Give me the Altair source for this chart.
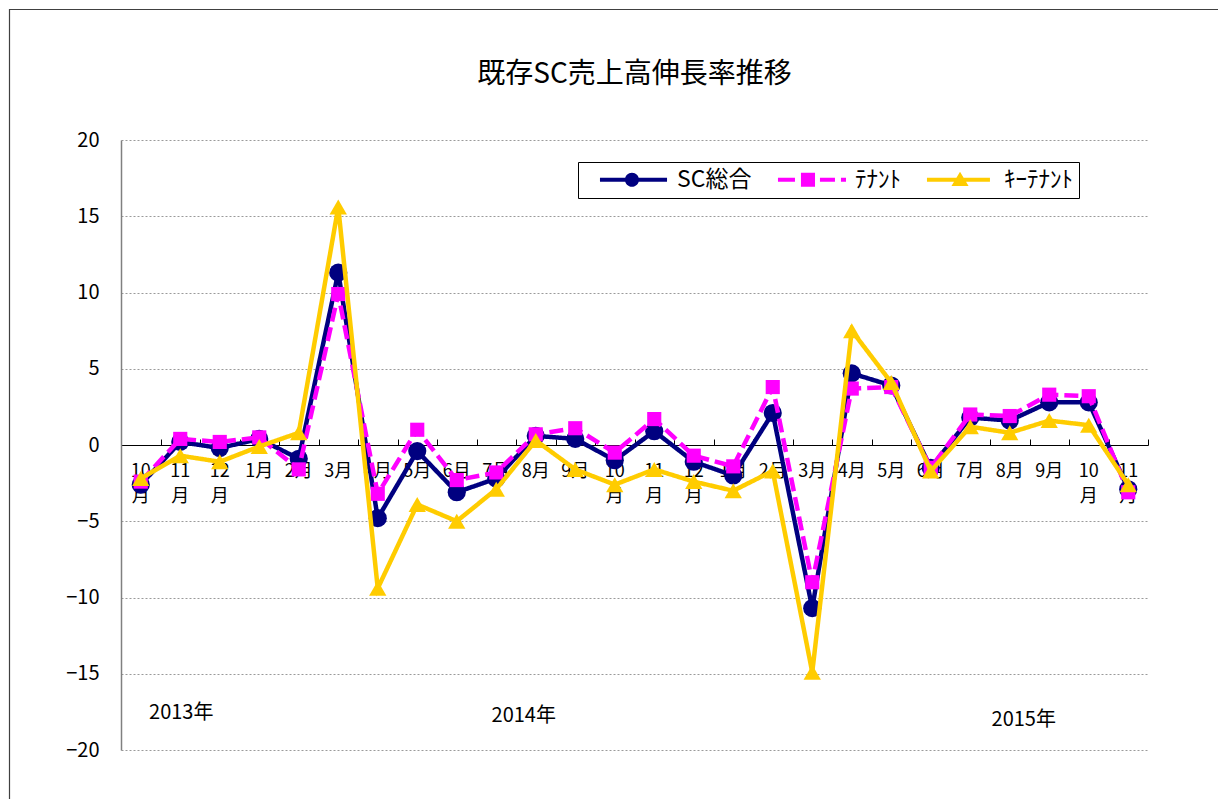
import altair as alt
import pandas as pd

periods = ["2013/10", "2013/11", "2013/12",
           "2014/01", "2014/02", "2014/03", "2014/04", "2014/05", "2014/06",
           "2014/07", "2014/08", "2014/09", "2014/10", "2014/11", "2014/12",
           "2015/01", "2015/02", "2015/03", "2015/04", "2015/05", "2015/06",
           "2015/07", "2015/08", "2015/09", "2015/10", "2015/11"]

sc_total = [-2.6, 0.2, -0.2, 0.4, -0.9, 11.3, -4.8, -0.4, -3.1, -2.2, 0.6, 0.4, -1.0,
            0.9, -1.1, -2.0, 2.1, -10.7, 4.7, 3.9, -1.5, 1.8, 1.6, 2.8, 2.8, -2.9]
tenant = [-2.4, 0.4, 0.2, 0.5, -1.6, 9.9, -3.2, 1.0, -2.3, -1.8, 0.7, 1.1, -0.5,
          1.7, -0.7, -1.4, 3.8, -9.0, 3.7, 3.8, -1.5, 2.0, 1.9, 3.3, 3.2, -3.1]
key_tenant = [-2.2, -0.7, -1.1, -0.1, 0.8, 15.6, -9.4, -3.9, -5.0, -2.9, 0.3, -1.6, -2.6,
              -1.6, -2.4, -3.0, -1.7, -14.9, 7.5, 4.1, -1.7, 1.2, 0.8, 1.6, 1.3, -2.6]

series_names = ["SC総合", "ﾃﾅﾝﾄ", "ｷｰﾃﾅﾝﾄ"]
series_colors = ["#000080", "#FF00FF", "#FFCC00"]

year_labels = ["2013年", "2014年", "2015年"]
year_anchor = ["2013/11", "2014/08", "2015/08"]
year_value = [-17.6, -17.8, -18.0]
year_dx = [1, -12, 14]

title_text = "既存SC売上高伸長率推移"

rows = []
for name, vals in zip(series_names, [sc_total, tenant, key_tenant]):
    for p, v in zip(periods, vals):
        rows.append({"period": p, "value": v, "series": name})
df = pd.DataFrame(rows)

JP = "Noto Sans CJK JP"
W, H = 1027, 610

xscale = alt.Scale(type="band", domain=periods, paddingInner=0, paddingOuter=0)
yscale = alt.Scale(domain=[-20, 20], nice=False, zero=False)

yaxis = alt.Axis(values=[-20, -15, -10, -5, 0, 5, 10, 15, 20], grid=True,
                 gridDash=[2, 2], gridColor="#9a9a9a", gridWidth=1,
                 domainColor="#808080", domainWidth=1.5, ticks=False, tickSize=0,
                 labelPadding=22, labelFontSize=20, labelFont=JP, labelColor="black",
                 title=None)

MON = "toString(toNumber(split(datum.value,'/')[1]))"
label_axis = alt.Axis(orient="bottom", offset=-H / 2, domain=False, ticks=False, tickSize=0,
                      grid=False, labelPadding=17, labelFontSize=18, labelFont=JP,
                      labelColor="black", labelBaseline="top", labelLineHeight=25,
                      labelAngle=0, labelOverlap=False,
                      labelExpr=f"length({MON}) > 1 ? [{MON}, '月'] : {MON} + '月'",
                      title=None)

tick_axis = alt.Axis(orient="top", offset=-H / 2, domain=True, domainColor="black",
                     domainWidth=1, ticks=True, tickSize=6, tickColor="black",
                     tickBand="extent", labels=False, grid=False, title=None)


def xenc(axis=None):
    return alt.X("period:N", sort=periods, scale=xscale, axis=axis, title=None)


def yenc():
    return alt.Y("value:Q", scale=yscale, axis=yaxis, title=None)


base = alt.Chart(df)

border = alt.Chart(pd.DataFrame({"a": [0]})).mark_rect(
    filled=False, stroke="#404040", strokeWidth=1.2
).encode(x=alt.value(-111.5), x2=alt.value(1400), y=alt.value(-130.5), y2=alt.value(1000))

layers = [border]
point_shapes = ["circle", "square", "triangle-up"]
point_sizes = [330, 200, 300]
dashes = [[1, 0], [14, 6], [1, 0]]
first = True
for name, col, shp, sz, dash in zip(series_names, series_colors, point_shapes, point_sizes, dashes):
    sub = base.transform_filter(alt.datum.series == name)
    line = sub.mark_line(color=col, strokeWidth=4.5, strokeDash=dash).encode(
        x=xenc(label_axis if first else None), y=yenc())
    pts = sub.mark_point(shape=shp, filled=True, color=col, size=sz, opacity=1).encode(
        x=xenc(tick_axis if first else None), y=yenc())
    layers += [line, pts]
    first = False

legend_paths = [
    "M0.47,-0.21H7.53V0.21H0.47Z M4.58,0 A0.74,0.74 0 1,1 3.1,0 A0.74,0.74 0 1,1 4.58,0Z",
    "M0.47,-0.21H2.26V0.21H0.47Z M2.89,-0.74H4.37V0.74H2.89Z M4.89,-0.21H6.47V0.21H4.89Z M7.1,-0.21H7.63V0.21H7.1Z",
    "M0.47,-0.21H7.1V0.21H0.47Z M3.95,-0.85L4.85,0.65H3.05Z",
]

leg = alt.Legend(orient="none", legendX=457, legendY=22,
                 direction="horizontal", title=None,
                 strokeColor="black", fillColor="white", padding=6,
                 labelFont=JP, labelFontSize=23, labelColor="black",
                 labelOffset=70, columnPadding=10,
                 symbolSize=361, symbolOpacity=1, symbolStrokeWidth=0)

legend_layer = base.mark_point(filled=True, opacity=0, size=361).encode(
    x=xenc(), y=yenc(),
    color=alt.Color("series:N", scale=alt.Scale(domain=series_names, range=series_colors),
                    legend=leg),
    shape=alt.Shape("series:N", scale=alt.Scale(domain=series_names, range=legend_paths),
                    legend=leg),
)
layers.append(legend_layer)

for lab, anc, val, dx in zip(year_labels, year_anchor, year_value, year_dx):
    t = alt.Chart(pd.DataFrame({"period": [anc], "value": [val], "label": [lab]})).mark_text(
        font=JP, fontSize=20, color="black", dx=dx, align="center", baseline="middle"
    ).encode(x=xenc(), y=yenc(), text="label:N")
    layers.append(t)

chart = alt.layer(*layers).resolve_axis(x="independent").properties(
    width=W, height=H,
    title=alt.TitleParams(title_text, font=JP, fontSize=28, fontWeight="normal",
                          color="black", anchor="middle", offset=-80),
    autosize=alt.AutoSizeParams(type="none"),
    padding={"left": 113, "top": 132, "right": 70, "bottom": 49},
    background="white",
).configure_view(stroke=None)

chart.save("out.html", embed_options={"renderer": "svg", "actions": False})
